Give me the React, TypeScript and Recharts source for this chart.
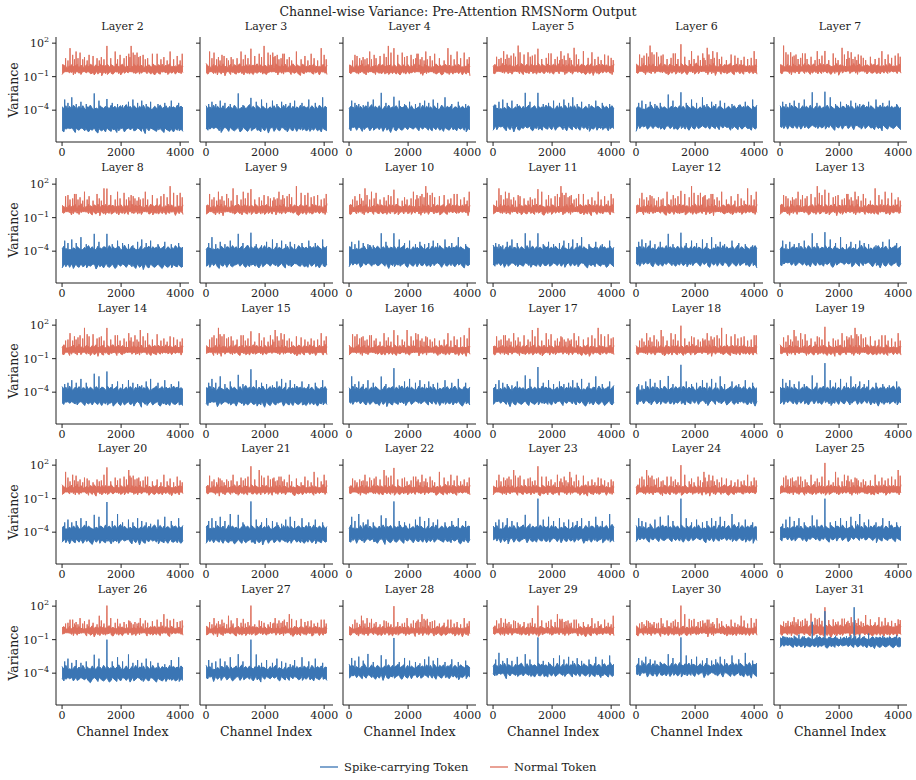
import React from 'react';
import { ComposedChart, Area, XAxis, YAxis } from 'recharts';

// layers shown, one panel each (5 rows x 6 cols)
const LAYERS = [2, 3, 4, 5, 6, 7, 8, 9, 10, 11, 12, 13, 14, 15, 16, 17, 18, 19, 20, 21, 22, 23, 24, 25, 26, 27, 28, 29, 30, 31];

// band edges of each token's channel variance, log10 units, one per layer
const BLUE_LO = [-5.6, -5.55, -5.5, -5.45, -5.4, -5.35, -5.15, -5.1, -5.05, -5.05, -5.0, -5.0, -4.85, -4.85, -4.8, -4.8, -4.75, -4.75, -4.65, -4.65, -4.6, -4.55, -4.5, -4.45, -4.4, -4.3, -4.15, -4.0, -3.95, -1.45];
const BLUE_HI = [-3.95, -3.95, -3.95, -3.95, -3.95, -3.95, -3.9, -3.9, -3.9, -3.9, -3.9, -3.9, -3.85, -3.85, -3.85, -3.85, -3.85, -3.85, -3.75, -3.75, -3.75, -3.75, -3.75, -3.75, -3.7, -3.7, -3.6, -3.5, -3.45, -1.0];
const RED_LO = [-0.55, -0.55, -0.55, -0.52, -0.52, -0.5, -0.46, -0.46, -0.45, -0.45, -0.45, -0.45, -0.42, -0.42, -0.42, -0.42, -0.42, -0.42, -0.4, -0.4, -0.4, -0.4, -0.4, -0.4, -0.38, -0.38, -0.38, -0.38, -0.38, -0.4];
const RED_HI = [-0.15, -0.15, -0.15, -0.12, -0.12, -0.12, -0.08, -0.08, -0.08, -0.08, -0.08, -0.08, -0.05, -0.05, -0.05, -0.05, -0.05, -0.05, -0.05, -0.05, -0.05, -0.05, -0.05, -0.05, -0.05, -0.05, -0.05, -0.05, -0.05, 0.1];

// the two outlier channels of the spike-carrying token
const BLUE_PEAK_1090 = [-2.5, -2.5, -2.45, -2.45, -2.6, -2.4, -2.45, -2.45, -2.4, -2.4, -2.45, -2.4, -2.35, -2.45, -2.6, -2.5, -2.55, -2.5, -2.45, -2.45, -2.5, -2.45, -2.5, -2.5, -2.35, -2.3, -2.4, -2.3, -2.3, 0.6];
const BLUE_PEAK_1520 = [-3.0, -2.9, -2.8, -2.45, -2.4, -2.35, -2.45, -2.35, -2.4, -2.4, -2.35, -2.3, -2.15, -1.95, -1.85, -1.75, -1.55, -1.4, -1.3, -1.25, -1.25, -1.0, -1.0, -1.0, -1.0, -1.0, -0.85, -0.8, -0.8, 1.55];
const RED_PEAK_1520 = [1.75, 1.5, 1.55, 1.5, 1.9, 1.3, 1.6, 1.55, 1.5, 1.55, 1.4, 1.5, 1.75, 1.45, 1.55, 1.75, 1.95, 1.85, 1.8, 1.9, 1.75, 1.9, 2.0, 2.2, 2.05, 2.05, 2.0, 2.05, 2.05, 1.9];

// smaller recurring spikes: channel and height above the band top (decades)
const BLUE_SPIKE_CH = [90, 200, 330, 480, 640, 820, 1250, 1700, 1880, 2050, 2250, 2400, 2560, 2700, 2850, 3000, 3250, 3480, 3700, 3950];
const BLUE_SPIKE_REL = [0.9, 0.6, 1.1, 0.5, 0.7, 0.5, 0.8, 0.6, 0.5, 0.4, 0.7, 0.9, 0.6, 0.8, 0.5, 0.7, 0.5, 0.6, 0.8, 0.6];
const BLUE_GAIN = [1.0, 1.0, 1.0, 1.0, 1.0, 1.0, 1.05, 1.05, 1.05, 1.05, 1.05, 1.05, 1.15, 1.15, 1.15, 1.15, 1.15, 1.15, 1.25, 1.25, 1.25, 1.25, 1.25, 1.25, 1.25, 1.25, 1.2, 1.2, 1.15, 0.5];
const RED_SPIKE_CH = [120, 200, 270, 360, 420, 475, 540, 610, 700, 760, 850, 915, 1050, 1185, 1260, 1330, 1420, 1650, 1800, 1880, 1965, 2100, 2180, 2260, 2300, 2340, 2410, 2470, 2540, 2600, 2650, 2745, 2820, 2900, 3060, 3220, 3350, 3450, 3560, 3660, 3780, 3900, 4000, 4070];
const RED_SPIKE_REL = [0.8, 0.6, 1.7, 1.1, 0.7, 1.4, 0.8, 1.3, 0.7, 0.9, 0.6, 1.1, 1.0, 0.8, 0.6, 0.9, 0.7, 0.8, 1.4, 0.7, 1.1, 0.8, 1.0, 1.2, 0.9, 1.9, 1.3, 1.1, 1.3, 0.9, 1.0, 1.1, 0.7, 0.8, 1.2, 1.2, 0.7, 0.9, 0.6, 1.4, 0.7, 1.0, 0.6, 1.2];
const RED_GAIN = [1.0, 1.0, 1.0, 1.0, 1.0, 1.0, 1.0, 1.0, 1.0, 1.0, 1.0, 1.0, 0.95, 0.95, 0.95, 0.95, 0.95, 0.95, 0.85, 0.85, 0.85, 0.85, 0.85, 0.85, 0.7, 0.7, 0.7, 0.7, 0.7, 0.65];

// layer 31 only: extra outlier of the spike-carrying token
const EXTRA_BLUE: [number, number, number][] = [[31, 2510, 1.9]];

// ragged edge of the dense band, sampled every 64 channels
const TOP_TEX = [0.25, 0.1, 0.35, 0.15, 0.3, 0.05, 0.4, 0.2, 0.1, 0.3, 0.15, 0.35, 0.05, 0.25, 0.2, 0.4, 0.1, 0.3, 0.15, 0.05, 0.35, 0.2, 0.1, 0.3, 0.25, 0.05, 0.4, 0.15, 0.3, 0.1, 0.2, 0.35, 0.05, 0.25, 0.45, 0.15, 0.3, 0.1, 0.35, 0.2, 0.05, 0.3, 0.15, 0.4, 0.1, 0.25, 0.2, 0.35, 0.05, 0.3, 0.15, 0.25, 0.4, 0.1, 0.2, 0.35, 0.05, 0.3, 0.15, 0.25, 0.1, 0.4, 0.2, 0.3, 0.15];
const BOT_TEX = [0.2, 0.35, 0.1, 0.25, 0.05, 0.3, 0.15, 0.4, 0.1, 0.2, 0.3, 0.05, 0.25, 0.15, 0.35, 0.1, 0.2, 0.05, 0.3, 0.45, 0.15, 0.25, 0.1, 0.35, 0.05, 0.2, 0.3, 0.15, 0.1, 0.4, 0.25, 0.05, 0.2, 0.35, 0.1, 0.3, 0.15, 0.05, 0.25, 0.2, 0.4, 0.1, 0.3, 0.15, 0.5, 0.05, 0.25, 0.35, 0.1, 0.2, 0.3, 0.15, 0.05, 0.25, 0.4, 0.1, 0.2, 0.3, 0.15, 0.35, 0.05, 0.2, 0.25, 0.1, 0.3];
const GRID = TOP_TEX.map((_, i) => Math.min(i * 64, 4095));

const X_TICKS = [0, 2000, 4000];
const Y_TICKS = [-4, -1, 2];

const FONT = '"DejaVu Serif", serif';
const BLUE = '#3a75b4';
const RED = '#de6f5c';
const INK = '#222';

type Pt = { x: number; v: [number, number] };

function buildSeries(lo: number, hi: number, spikes: [number, number][], tex: number, shift: number): Pt[] {
  const n = TOP_TEX.length;
  const pts: Pt[] = [];
  GRID.forEach((x, i) => {
    if (spikes.some(([c]) => Math.abs(c - x) < 12)) return;
    const j = (i + shift) % n;
    pts.push({ x, v: [lo - BOT_TEX[j] * tex, hi + TOP_TEX[j] * tex] });
  });
  spikes.forEach(([c, p]) => {
    pts.push({ x: c - 6, v: [lo, hi] });
    pts.push({ x: c, v: [lo, p] });
    pts.push({ x: c + 6, v: [lo, hi] });
  });
  return pts.sort((a, b) => a.x - b.x);
}

const PowTick = ({ x, y, payload }: any) => {
  const e = payload.value < 0 ? `\u2212${Math.abs(payload.value)}` : `${payload.value}`;
  return (
    <text x={x} y={y} dy={4} textAnchor="end" fontSize={11} fill={INK} fontFamily={FONT}>
      10<tspan dy={-5} fontSize={8}>{e}</tspan>
    </text>
  );
};

const NoTick = () => <g />;

const PLOT_W = 133;
const PLOT_H = 105;

const Panel = ({ k }: { k: number }) => {
  const layer = LAYERS[k];
  const row = Math.floor(k / 6);
  const col = k % 6;
  const left = 56 + col * 143.5;
  const top = 37 + row * 140.75;

  const nb = BLUE_SPIKE_REL.length;
  const nr = RED_SPIKE_REL.length;
  const blueSpikes: [number, number][] = BLUE_SPIKE_CH.map((c, j) => [c, BLUE_HI[k] + BLUE_SPIKE_REL[(j + k * 3) % nb] * BLUE_GAIN[k]] as [number, number]);
  blueSpikes.push([1090, BLUE_PEAK_1090[k]], [1520, BLUE_PEAK_1520[k]]);
  EXTRA_BLUE.filter((e) => e[0] === layer).forEach((e) => blueSpikes.push([e[1], e[2]]));
  const redSpikes: [number, number][] = RED_SPIKE_CH.map((c, j) => [c, RED_HI[k] + RED_SPIKE_REL[(j + k * 5) % nr] * RED_GAIN[k]] as [number, number]);
  redSpikes.push([1520, RED_PEAK_1520[k]]);

  const blue = buildSeries(BLUE_LO[k], BLUE_HI[k], blueSpikes, layer === 31 ? 0.7 : 1, k * 11);
  const red = buildSeries(RED_LO[k], RED_HI[k], redSpikes, 0.75, k * 11 + 23);

  return (
    <>
      <div
        style={{
          position: 'absolute', left, top: top - 17, width: PLOT_W, textAlign: 'center',
          fontSize: 11, lineHeight: '14px', fontFamily: FONT, color: INK,
        }}
      >
        {`Layer ${layer}`}
      </div>
      <div style={{ position: 'absolute', left: left - 50, top: top - 20 }}>
        <ComposedChart width={50 + PLOT_W + 6} height={20 + PLOT_H + 30} margin={{ top: 20, right: 6, bottom: 5, left: 5 }}>
          <XAxis
            type="number"
            dataKey="x"
            domain={[-205, 4300]}
            ticks={X_TICKS}
            allowDataOverflow
            height={25}
            tickSize={4}
            tickMargin={2}
            axisLine={{ stroke: INK }}
            tickLine={{ stroke: INK }}
            tick={{ fontSize: 11, fill: INK, fontFamily: FONT }}
          />
          <YAxis
            type="number"
            domain={[-6.85, 2.55]}
            ticks={Y_TICKS}
            allowDataOverflow
            width={45}
            tickSize={4}
            tickMargin={3}
            axisLine={{ stroke: INK }}
            tickLine={{ stroke: INK }}
            tick={col === 0 ? <PowTick /> : <NoTick />}
          />
          <Area data={red} dataKey="v" type="linear" stroke={RED} strokeWidth={1} fill={RED} fillOpacity={1} dot={false} activeDot={false} isAnimationActive={false} />
          <Area data={blue} dataKey="v" type="linear" stroke={BLUE} strokeWidth={1} fill={BLUE} fillOpacity={1} dot={false} activeDot={false} isAnimationActive={false} />
        </ComposedChart>
      </div>
      {col === 0 && (
        <div
          style={{
            position: 'absolute', left: 14 - 40, top: top + PLOT_H / 2 - 8, width: 80, textAlign: 'center',
            fontSize: 12.5, lineHeight: '16px', fontFamily: FONT, color: INK, transform: 'rotate(-90deg)',
          }}
        >
          Variance
        </div>
      )}
      {row === 4 && (
        <div
          style={{
            position: 'absolute', left, top: 724, width: PLOT_W, textAlign: 'center',
            fontSize: 12.5, lineHeight: '16px', fontFamily: FONT, color: INK,
          }}
        >
          Channel Index
        </div>
      )}
    </>
  );
};

const LegendItem = ({ color, label, x }: { color: string; label: string; x: number }) => (
  <div style={{ position: 'absolute', left: x, top: 759, display: 'flex', alignItems: 'center', fontSize: 11.5, lineHeight: '16px' }}>
    <svg width={18} height={4} style={{ marginRight: 6 }}>
      <line x1={0} y1={2} x2={18} y2={2} stroke={color} strokeWidth={1.3} />
    </svg>
    <span>{label}</span>
  </div>
);

export default function App() {
  return (
    <div style={{ position: 'absolute', left: 0, top: 0, width: 916, height: 780, background: '#fff', fontFamily: FONT, color: INK }}>
      <div style={{ position: 'absolute', left: 0, top: 4, width: 916, textAlign: 'center', fontSize: 12.5, lineHeight: '16px' }}>
        Channel-wise Variance: Pre-Attention RMSNorm Output
      </div>
      {LAYERS.map((_, k) => (
        <Panel key={k} k={k} />
      ))}
      <LegendItem color={BLUE} label="Spike-carrying Token" x={320} />
      <LegendItem color={RED} label="Normal Token" x={490} />
    </div>
  );
}
